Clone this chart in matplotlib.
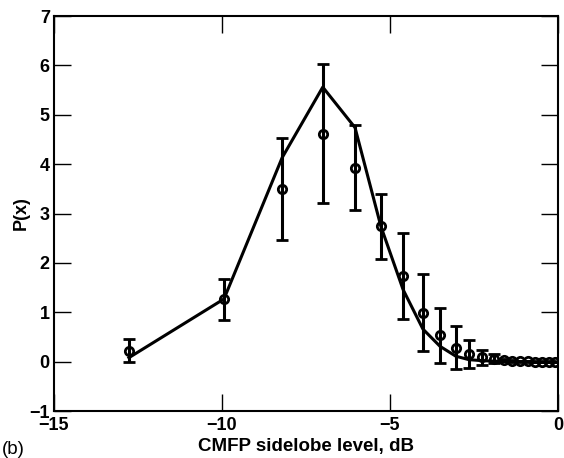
import matplotlib
matplotlib.use("Agg")
import matplotlib.pyplot as plt
from matplotlib.ticker import MultipleLocator

plt.rcParams['font.family'] = ['Liberation Sans', 'DejaVu Sans']

# Data
x_vals = [-12.77, -9.94, -8.21, -7.0, -6.04, -5.27, -4.61, -4.02, -3.51, -3.04,
          -2.65, -2.26, -1.90, -1.62, -1.37, -1.13, -0.90, -0.68, -0.47, -0.27, -0.08]
p_meas = [0.22, 1.27, 3.50, 4.62, 3.92, 2.74, 1.74, 0.99, 0.53, 0.28,
          0.15, 0.09, 0.06, 0.03, 0.02, 0.01, 0.01, 0.0, 0.0, 0.0, 0.0]
p_err_lo = [0.23, 0.42, 1.03, 1.40, 0.84, 0.67, 0.87, 0.78, 0.56, 0.43,
            0.27, 0.16, 0.08, 0.02, 0.02, 0.01, 0.01, 0.0, 0.0, 0.0, 0.0]
p_err_hi = [0.23, 0.40, 1.03, 1.40, 0.88, 0.66, 0.86, 0.78, 0.55, 0.44,
            0.28, 0.14, 0.09, 0.02, 0.02, 0.01, 0.01, 0.0, 0.0, 0.0, 0.0]
p_model = [0.08, 1.27, 4.13, 5.56, 4.74, 2.74, 1.46, 0.66, 0.31, 0.11,
           0.04, 0.02, 0.01, 0.005, 0.0, 0.0, 0.0, 0.0, 0.0, 0.0, 0.0]

fig = plt.figure(figsize=(5.64, 4.58), dpi=100)
ax = fig.add_axes([0.0957, 0.1026, 0.8936, 0.8624])

ax.plot(x_vals, p_model, color='black', lw=2.2, zorder=2)
ax.errorbar(x_vals, p_meas, yerr=[p_err_lo, p_err_hi], fmt='o', ms=6,
            mfc='none', mec='black', mew=2.0, ecolor='black', elinewidth=2.2,
            capsize=4, capthick=2.2, zorder=3)

ax.set_xlim(-15, 0)
ax.set_ylim(-1, 7)
ax.xaxis.set_major_locator(MultipleLocator(5))
ax.yaxis.set_major_locator(MultipleLocator(1))
ax.tick_params(direction='in', length=12, width=1.0, top=True, right=True,
               labelsize=13)
ax.tick_params(axis='x', pad=4)
ax.tick_params(axis='y', pad=3)
for lab in ax.get_xticklabels() + ax.get_yticklabels():
    lab.set_fontweight('bold')
for s in ax.spines.values():
    s.set_linewidth(1.5)

ax.set_xlabel('CMFP sidelobe level, dB', fontsize=13.5, fontweight='bold', labelpad=3)
ax.set_ylabel('P(x)', fontsize=13, fontweight='bold', labelpad=0)
fig.text(0.004, 0.008, '(b)', fontsize=13.5)

fig.savefig('out.png', dpi=100)
